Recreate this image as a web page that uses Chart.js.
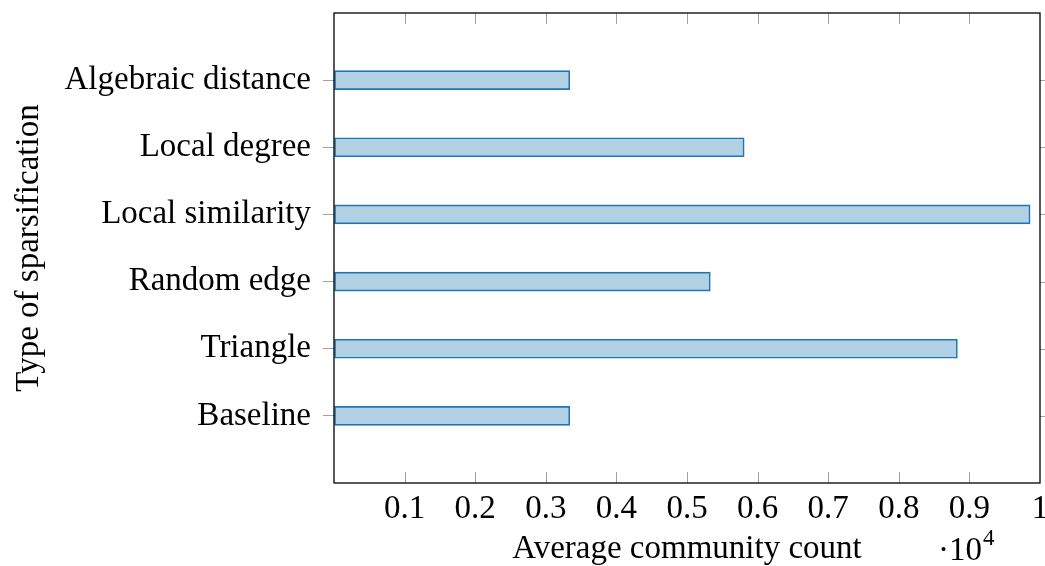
<!DOCTYPE html>
<html>
<head>
<meta charset="utf-8">
<script src="https://cdn.jsdelivr.net/npm/chart.js@4/dist/chart.umd.min.js"></script>
<style>
  html, body { margin: 0; padding: 0; background: #fff; }
  #wrap { width: 1045px; height: 566px; position: relative; }
</style>
</head>
<body>
<div id="wrap"><canvas id="myChart"></canvas></div>
<script>
const categories = ["Algebraic distance", "Local degree", "Local similarity", "Random edge", "Triangle", "Baseline"];
const communityCount = [3340, 5810, 9860, 5330, 8830, 3340];
const xTicks = [1000, 2000, 3000, 4000, 5000, 6000, 7000, 8000, 9000, 10000];

// empty slots at both ends give the extra space pgfplots leaves around the bars
const yLabels = [""].concat(categories, [""]);
const yData = [null].concat(communityCount, [null]);

const serif = "'Liberation Serif', 'Times New Roman', serif";
const tickGrey = "#a0a0a0";
const fontSize = 33;

const framePlugin = {
  id: "frame",
  afterDraw(chart) {
    const { ctx, chartArea: a, scales } = chart;
    ctx.save();
    ctx.strokeStyle = tickGrey;
    ctx.lineWidth = 1;
    // x ticks, inside the box at top and bottom
    xTicks.forEach((v) => {
      if (v >= scales.x.max) return;
      const px = Math.round(scales.x.getPixelForValue(v)) + 0.5;
      ctx.beginPath();
      ctx.moveTo(px, a.top);
      ctx.lineTo(px, a.top + 11);
      ctx.moveTo(px, a.bottom);
      ctx.lineTo(px, a.bottom - 11);
      ctx.stroke();
    });
    // y ticks mirrored on the right
    categories.forEach((c, i) => {
      const py = Math.round(scales.y.getPixelForValue(i + 1)) + 0.5;
      ctx.beginPath();
      ctx.moveTo(a.right, py);
      ctx.lineTo(a.right + 7, py);
      ctx.stroke();
    });
    ctx.strokeStyle = "#000";
    ctx.lineWidth = 1.3;
    ctx.strokeRect(a.left, a.top, a.right - a.left, a.bottom - a.top);

    // the "·10^4" factor
    ctx.fillStyle = "#000";
    ctx.textBaseline = "alphabetic";
    ctx.textAlign = "left";
    ctx.font = fontSize + "px " + serif;
    ctx.fillText("\u00b710", 938, 560);
    const w = ctx.measureText("\u00b710").width;
    ctx.font = "23px " + serif;
    ctx.fillText("4", 938 + w + 1, 545);
    ctx.restore();
  },
};

const ctx = document.getElementById("myChart");

new Chart(ctx, {
  type: "bar",
  data: {
    labels: yLabels,
    datasets: [
      {
        label: "Average community count",
        data: yData,
        backgroundColor: "rgba(31, 119, 180, 0.34)",
        borderColor: "#1f77b4",
        borderWidth: 1,
        borderSkipped: false,
        barThickness: 19,
      },
    ],
  },
  options: {
    indexAxis: "y",
    responsive: true,
    maintainAspectRatio: false,
    animation: false,
    layout: {
      padding: { left: 0, top: 13, right: 5, bottom: 0 },
    },
    plugins: {
      legend: { display: false },
      tooltip: { enabled: false },
    },
    scales: {
      x: {
        type: "linear",
        min: 0,
        max: 10000,
        afterFit: (scale) => {
          scale.height = 83;
          scale.paddingLeft = 0;
          scale.paddingRight = 0;
        },
        afterBuildTicks: (scale) => {
          scale.ticks = [0].concat(xTicks).map((v) => ({ value: v }));
        },
        ticks: {
          color: "#000",
          font: { family: serif, size: fontSize },
          padding: 7,
          maxRotation: 0,
          autoSkip: false,
          callback: (v) => (v === 0 ? "" : String(v / 10000)),
        },
        grid: { drawOnChartArea: false, drawTicks: false },
        border: { display: false },
        title: {
          display: true,
          text: "Average community count",
          color: "#000",
          font: { family: serif, size: fontSize },
          padding: { top: 0, bottom: -3 },
        },
      },
      y: {
        type: "category",
        offset: false,
        afterFit: (scale) => {
          scale.width = 334;
          scale.paddingTop = 0;
          scale.paddingBottom = 0;
        },
        ticks: {
          color: "#000",
          font: { family: serif, size: fontSize },
          padding: 12,
          autoSkip: false,
        },
        grid: {
          offset: false,
          drawOnChartArea: false,
          drawTicks: true,
          tickLength: 11,
          color: (c) => (c.index === 0 || c.index === yLabels.length - 1 ? "rgba(0,0,0,0)" : tickGrey),
        },
        border: { display: false },
        title: {
          display: true,
          text: "Type of sparsification",
          color: "#000",
          font: { family: serif, size: fontSize },
          padding: { top: 10, bottom: 0 },
        },
      },
    },
  },
  plugins: [framePlugin],
});
</script>
</body>
</html>
